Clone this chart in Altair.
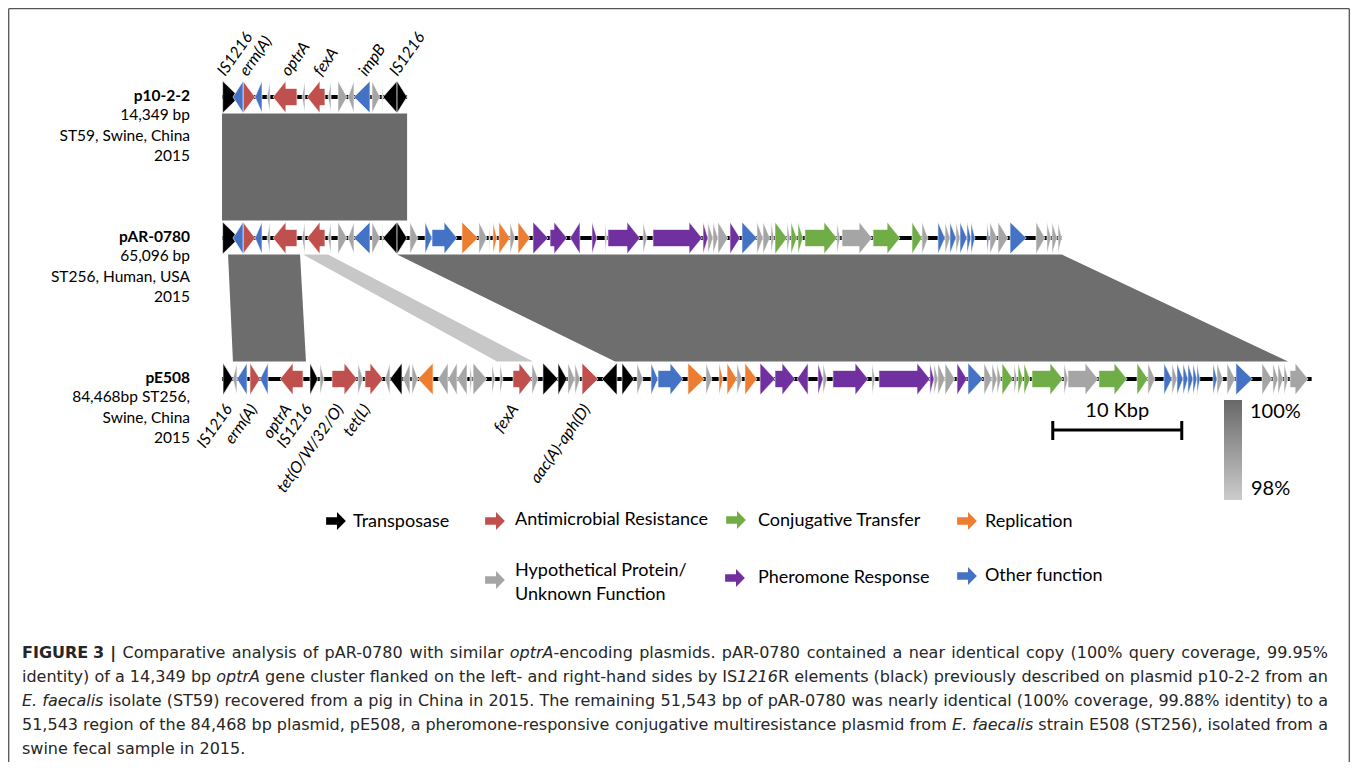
import altair as alt
import pandas as pd

# ---------------------------------------------------------------- data
PLASMIDS = ["p10-2-2", "pAR-0780", "pE508"]
PLASMID_LEN_KB = [14.349, 65.096, 84.468]
PLASMID_INFO = [
    ["14,349 bp", "ST59, Swine, China", "2015"],
    ["65,096 bp", "ST256, Human, USA", "2015"],
    ["84,468bp ST256,", "Swine, China", "2015"],
]

CATEGORIES = ["tra", "amr", "con", "rep", "hyp", "phe", "oth"]
CATEGORY_NAMES = ["Transposase", "Antimicrobial Resistance", "Conjugative Transfer",
                  "Replication", "Hypothetical Protein/\nUnknown Function",
                  "Pheromone Response", "Other function"]
CATEGORY_COLORS = ["#000000", "#c0504d", "#70ad47", "#ed7d31", "#a5a5a5", "#7030a0", "#4472c4"]

# genes: (start kb, end kb, strand, category)
P10_GENES = [
    (0.05, 1.32, "+", "tra"), (0.85, 1.63, "-", "oth"), (1.63, 2.56, "+", "amr"),
    (2.56, 3.10, "-", "oth"), (3.49, 3.72, "-", "hyp"), (3.95, 5.81, "-", "amr"),
    (6.20, 6.43, "-", "hyp"), (6.59, 7.98, "-", "amr"), (8.22, 8.45, "-", "hyp"),
    (8.99, 9.69, "+", "hyp"), (9.77, 10.23, "-", "hyp"), (10.23, 11.47, "-", "oth"),
    (11.63, 12.25, "+", "hyp"), (12.40, 12.48, "-", "hyp"), (12.48, 13.57, "-", "tra"),
    (13.57, 14.34, "+", "tra"),
]

PAR_GENES = P10_GENES + [
    (14.57, 15.19, "+", "hyp"), (15.74, 16.28, "+", "oth"), (16.28, 18.22, "+", "oth"),
    (18.60, 19.84, "+", "rep"), (19.92, 20.54, "+", "hyp"), (20.70, 20.78, "+", "hyp"),
    (21.01, 21.32, "+", "rep"), (21.47, 22.33, "+", "rep"), (22.33, 22.71, "+", "hyp"),
    (22.95, 23.88, "+", "rep"), (24.11, 25.27, "+", "phe"), (25.43, 26.74, "+", "phe"),
    (26.98, 27.75, "-", "phe"), (28.68, 29.07, "+", "phe"), (29.69, 29.84, "+", "hyp"),
    (29.92, 32.40, "+", "phe"), (32.64, 32.95, "+", "hyp"), (33.41, 37.21, "+", "phe"),
    (37.29, 37.67, "+", "phe"), (37.67, 38.06, "+", "hyp"), (38.06, 38.45, "+", "hyp"),
    (38.45, 39.22, "+", "hyp"), (39.38, 40.16, "+", "phe"), (40.31, 41.47, "+", "oth"),
    (41.47, 41.94, "+", "hyp"), (41.94, 42.48, "+", "hyp"), (42.56, 42.79, "+", "hyp"),
    (42.87, 43.80, "+", "con"), (43.80, 44.03, "+", "hyp"), (44.11, 44.57, "+", "con"),
    (44.65, 45.04, "+", "con"), (45.19, 47.67, "+", "con"), (47.67, 47.91, "+", "hyp"),
    (48.06, 50.39, "+", "hyp"), (50.47, 52.56, "+", "con"), (53.49, 54.26, "+", "con"),
    (54.26, 54.73, "+", "hyp"), (55.50, 56.05, "+", "oth"), (56.05, 56.43, "+", "hyp"),
    (56.43, 56.90, "+", "oth"), (56.90, 57.21, "+", "hyp"), (57.21, 57.75, "+", "oth"),
    (57.75, 58.06, "+", "oth"), (58.06, 58.37, "+", "oth"), (59.30, 59.46, "+", "oth"),
    (59.53, 60.08, "+", "hyp"), (60.16, 60.93, "+", "hyp"), (61.09, 62.35, "+", "oth"),
    (63.10, 63.80, "+", "hyp"), (63.95, 64.26, "+", "hyp"), (64.34, 64.73, "+", "hyp"),
    (64.81, 65.09, "+", "hyp"),
]

PE508_GENES = [
    (0.08, 0.85, "+", "tra"), (0.85, 1.16, "-", "hyp"), (1.16, 1.94, "-", "oth"),
    (2.17, 2.95, "+", "amr"), (2.95, 3.57, "-", "oth"), (4.50, 6.28, "-", "amr"),
    (6.82, 7.44, "+", "tra"), (7.60, 7.91, "+", "hyp"), (8.53, 10.47, "+", "amr"),
    (10.54, 10.93, "+", "hyp"), (11.09, 12.48, "+", "amr"), (12.64, 13.02, "-", "hyp"),
    (13.02, 13.95, "-", "tra"), (14.03, 14.57, "-", "hyp"), (14.73, 15.19, "+", "hyp"),
    (15.19, 16.36, "-", "rep"), (16.74, 17.52, "-", "hyp"), (17.52, 18.22, "-", "hyp"),
    (18.22, 18.99, "-", "hyp"), (19.22, 19.38, "+", "hyp"), (19.46, 20.54, "+", "hyp"),
    (20.93, 21.16, "+", "hyp"), (21.55, 21.78, "+", "hyp"), (22.56, 24.03, "+", "amr"),
    (24.03, 24.50, "+", "hyp"), (24.88, 26.05, "+", "tra"), (26.05, 26.74, "+", "tra"),
    (26.82, 27.36, "+", "hyp"), (27.36, 27.75, "+", "hyp"), (27.91, 29.15, "+", "amr"),
    (29.46, 30.62, "-", "tra"), (31.01, 31.94, "+", "tra"),
    (32.17, 32.64, "+", "hyp"), (33.26, 33.80, "+", "oth"), (33.80, 35.74, "+", "oth"),
    (36.12, 37.40, "+", "rep"), (37.52, 37.98, "+", "hyp"), (38.53, 38.84, "+", "rep"),
    (39.15, 39.92, "+", "rep"), (39.92, 40.31, "+", "hyp"), (40.54, 41.47, "+", "rep"),
    (41.71, 42.87, "+", "phe"), (42.87, 44.42, "+", "phe"), (44.57, 45.43, "-", "phe"),
    (46.20, 46.59, "+", "phe"), (46.59, 46.90, "+", "hyp"), (47.36, 50.08, "+", "phe"),
    (50.39, 50.62, "+", "hyp"), (50.93, 54.88, "+", "phe"), (54.88, 55.19, "+", "phe"),
    (55.19, 55.50, "+", "hyp"), (55.50, 56.05, "+", "hyp"), (56.05, 56.82, "+", "hyp"),
    (56.98, 57.75, "+", "phe"), (57.83, 58.99, "+", "oth"), (59.07, 59.69, "+", "hyp"),
    (59.69, 60.08, "+", "hyp"), (60.08, 60.39, "+", "hyp"), (60.47, 61.32, "+", "con"),
    (61.40, 61.63, "+", "hyp"), (61.71, 62.09, "+", "con"), (62.17, 62.64, "+", "con"),
    (62.79, 65.19, "+", "con"), (65.27, 65.58, "+", "hyp"), (65.58, 67.91, "+", "hyp"),
    (67.98, 70.16, "+", "con"), (70.93, 71.78, "+", "con"), (71.78, 72.33, "+", "hyp"),
    (73.02, 73.64, "+", "oth"), (73.64, 74.03, "+", "hyp"), (74.03, 74.50, "+", "oth"),
    (74.50, 74.88, "+", "oth"), (74.88, 75.27, "+", "oth"), (75.27, 75.58, "+", "oth"),
    (75.58, 75.81, "+", "oth"), (76.82, 77.13, "+", "oth"), (77.13, 77.60, "+", "hyp"),
    (77.91, 78.53, "+", "hyp"), (78.60, 79.88, "+", "oth"), (80.62, 81.40, "+", "hyp"),
    (81.47, 81.86, "+", "hyp"), (81.86, 82.25, "+", "hyp"), (82.33, 82.64, "+", "hyp"),
    (82.79, 84.19, "+", "hyp"),
]
TRACK_GENES = [P10_GENES, PAR_GENES, PE508_GENES]

# homologous regions: (upper track, lower track, upper start, upper end, lower start, lower end, % identity)
SYNTENY = [
    (0, 1, 0.00, 14.349, 0.00, 14.349, 99.95),
    (1, 2, 0.47, 6.05, 0.85, 6.51, 99.9),
    (1, 2, 6.28, 8.22, 21.32, 24.11, 98.1),
    (1, 2, 13.57, 65.096, 30.47, 82.64, 99.88),
]
IDENTITY_RANGE = [98, 100]

TOP_LABELS = ["IS1216", "erm(A)", "optrA", "fexA", "impB", "IS1216"]
TOP_LABEL_KB = [0.25, 1.95, 5.2, 7.7, 11.2, 13.6]
BOTTOM_LABELS = ["IS1216", "erm(A)", "optrA", "IS1216", "tet(O/W/32/O)", "tet(L)", "fexA", "aac(A)-aph(D)"]
BOTTOM_LABEL_KB = [0.85, 2.79, 5.43, 7.05, 9.46, 11.55, 23.02, 28.60]

SCALE_BAR_KB = 10
SCALE_BAR_START_KB = 64.4

CAPTION_LINES = [
    "*FIGURE 3 |* Comparative analysis of pAR-0780 with similar _optrA_-encoding plasmids. pAR-0780 contained a near identical copy (100% query coverage, 99.95%",
    "identity) of a 14,349 bp _optrA_ gene cluster flanked on the left- and right-hand sides by IS_1216_R elements (black) previously described on plasmid p10-2-2 from an",
    "_E. faecalis_ isolate (ST59) recovered from a pig in China in 2015. The remaining 51,543 bp of pAR-0780 was nearly identical (100% coverage, 99.88% identity) to a",
    "51,543 region of the 84,468 bp plasmid, pE508, a pheromone-responsive conjugative multiresistance plasmid from _E. faecalis_ strain E508 (ST256), isolated from a",
    "swine fecal sample in 2015.",
]

# ---------------------------------------------------------------- layout
W, H = 1342, 754
PX_PER_KB = 12.9
X0_PX = 214
XMIN = -X0_PX / PX_PER_KB
XMAX = XMIN + W / PX_PER_KB
XS = alt.Scale(domain=[XMIN, XMAX], nice=False, zero=False)
YS = alt.Scale(domain=[0, H], nice=False, zero=False, reverse=True)
TRACK_Y = [89, 230, 371]
HEAD_HALF, BODY_HALF = 16, 8.5
HEAD_KB, TRI_KB = 1.0, 1.3
EPS = 0.002
COLOR_OF = dict(zip(CATEGORIES, CATEGORY_COLORS))
FONT = "Lato"


def gx(field, **kw):
    return alt.X(field, scale=XS, axis=None, **kw)


def gy(field, **kw):
    return alt.Y(field, scale=YS, axis=None, **kw)


# gene arrows
arrow_rows = []
for ti, genes in enumerate(TRACK_GENES):
    yc = TRACK_Y[ti]
    for gi, (s, e, strand, cat) in enumerate(genes):
        if e - s <= TRI_KB:
            pts = [(s, HEAD_HALF), (e, 0.0)] if strand == "+" else [(s, 0.0), (e, HEAD_HALF)]
        elif strand == "+":
            h = e - HEAD_KB
            pts = [(s, BODY_HALF), (h - EPS, BODY_HALF), (h, HEAD_HALF), (e, 0.0)]
        else:
            h = s + HEAD_KB
            pts = [(s, 0.0), (h, HEAD_HALF), (h + EPS, BODY_HALF), (e, BODY_HALF)]
        for x, hw in pts:
            arrow_rows.append({"gid": f"{ti}_{gi}", "x": x, "ylo": yc - hw,
                               "yhi": yc + hw, "cat": cat})
arrows_df = pd.DataFrame(arrow_rows)

backbone_df = pd.DataFrame({"x0": [0.0] * 3, "x1": PLASMID_LEN_KB, "y": TRACK_Y})


def gray_for(identity):
    lo, hi = IDENTITY_RANGE
    t = max(0.0, min(1.0, (identity - lo) / (hi - lo)))
    v = round(204 - t * (204 - 104))
    return "#%02x%02x%02x" % (v, v, v)


syn_layers = []
for bi, (ta, tb, a0, a1, b0, b1, ident) in enumerate(SYNTENY):
    bdf = pd.DataFrame([
        {"yy": TRACK_Y[ta] + 16.5, "xa": a0, "xb": a1},
        {"yy": TRACK_Y[tb] - 17.5, "xa": b0, "xb": b1},
    ])
    syn_layers.append(alt.Chart(bdf).mark_area(orient="horizontal", color=gray_for(ident), opacity=1).encode(
        y=gy("yy:Q"), x=gx("xa:Q", stack=None), x2="xb:Q"))

backbone = alt.Chart(backbone_df).mark_rule(color="black", strokeWidth=4).encode(
    x=gx("x0:Q"), x2="x1:Q", y=gy("y:Q"))

arrow_layers = []
for cat in CATEGORIES:
    sub = arrows_df[arrows_df.cat == cat]
    if len(sub) == 0:
        continue
    arrow_layers.append(alt.Chart(sub).mark_area(
        orient="vertical", color=COLOR_OF[cat], opacity=1, stroke="white", strokeWidth=0.6,
        strokeJoin="miter").encode(
        x=gx("x:Q"), y=gy("ylo:Q", stack=None), y2="yhi:Q", detail="gid:N"))

top_lab = alt.Chart(pd.DataFrame({"t": TOP_LABELS, "x": TOP_LABEL_KB, "y": [69] * len(TOP_LABELS)})).mark_text(
    angle=305, align="left", baseline="alphabetic", font=FONT, fontStyle="italic", fontSize=16, color="black"
).encode(x=gx("x:Q"), y=gy("y:Q"), text="t:N")

bot_lab = alt.Chart(pd.DataFrame({"t": BOTTOM_LABELS, "x": BOTTOM_LABEL_KB, "y": [401] * len(BOTTOM_LABELS)})).mark_text(
    angle=305, align="right", baseline="alphabetic", font=FONT, fontStyle="italic", fontSize=16, color="black"
).encode(x=gx("x:Q"), y=gy("y:Q"), text="t:N")

# left-hand plasmid descriptions
name_rows, info_rows = [], []
for ti, name in enumerate(PLASMIDS):
    yc = TRACK_Y[ti]
    name_rows.append({"t": name, "px": 182, "py": yc - 1})
    for li, line in enumerate(PLASMID_INFO[ti]):
        info_rows.append({"t": line, "px": 182, "py": yc + 18 + li * 20.5})
names = alt.Chart(pd.DataFrame(name_rows)).mark_text(
    align="right", baseline="middle", font=FONT, fontSize=15.5, fontWeight="bold", color="black"
).encode(x=alt.X("px:Q", scale=None), y=alt.Y("py:Q", scale=None), text="t:N")
infos = alt.Chart(pd.DataFrame(info_rows)).mark_text(
    align="right", baseline="middle", font=FONT, fontSize=15.5, color="black"
).encode(x=alt.X("px:Q", scale=None), y=alt.Y("py:Q", scale=None), text="t:N")

# legend
LEG_SYM = {"tra": (328, 513), "amr": (487, 513), "con": (728, 512), "rep": (959, 513),
           "hyp": (487, 572), "phe": (727, 570), "oth": (959, 568)}
LEG_TXT = {"tra": (345, 514), "amr": (507, 512), "con": (750, 513), "rep": (977, 514),
           "hyp": (507, 563), "phe": (750, 570), "oth": (977, 568)}
ARROW_PATH = "M-1,-0.38L0.1,-0.38L0.1,-0.92L1,0L0.1,0.92L0.1,0.38L-1,0.38Z"
sym_rows, ltxt_rows = [], []
for cat, name in zip(CATEGORIES, CATEGORY_NAMES):
    sx, sy = LEG_SYM[cat]
    sym_rows.append({"px": sx, "py": sy, "fill": COLOR_OF[cat]})
    tx, ty = LEG_TXT[cat]
    for li, line in enumerate(name.split("\n")):
        ltxt_rows.append({"t": line, "px": tx, "py": ty + li * 24})
leg_sym = alt.Chart(pd.DataFrame(sym_rows)).mark_point(
    shape=ARROW_PATH, filled=True, size=390, opacity=1, strokeWidth=0
).encode(x=alt.X("px:Q", scale=None), y=alt.Y("py:Q", scale=None), fill=alt.Fill("fill:N", scale=None))
leg_txt = alt.Chart(pd.DataFrame(ltxt_rows)).mark_text(
    align="left", baseline="middle", font=FONT, fontSize=18, color="black"
).encode(x=alt.X("px:Q", scale=None), y=alt.Y("py:Q", scale=None), text="t:N")

# scale bar
sb_df = pd.DataFrame({"x0": [SCALE_BAR_START_KB], "x1": [SCALE_BAR_START_KB + SCALE_BAR_KB],
                      "xm": [SCALE_BAR_START_KB + SCALE_BAR_KB / 2], "t": [f"{SCALE_BAR_KB} Kbp"]})
sb_line = alt.Chart(sb_df).mark_rule(color="black", strokeWidth=3).encode(
    x=gx("x0:Q"), x2="x1:Q", y=alt.value(422))
sb_tick0 = alt.Chart(sb_df).mark_rule(color="black", strokeWidth=3).encode(
    x=gx("x0:Q"), y=alt.value(413), y2=alt.value(432))
sb_tick1 = alt.Chart(sb_df).mark_rule(color="black", strokeWidth=3).encode(
    x=gx("x1:Q"), y=alt.value(413), y2=alt.value(432))
sb_text = alt.Chart(sb_df).mark_text(
    align="center", baseline="middle", font=FONT, fontSize=20, color="black"
).encode(x=gx("xm:Q"), y=alt.value(403), text="t:N")

# identity gradient key
one = pd.DataFrame({"a": [0]})
grad = alt.Chart(one).mark_rect(
    fill=alt.Gradient(gradient="linear",
                      stops=[alt.GradientStop(color=gray_for(IDENTITY_RANGE[1]), offset=0),
                             alt.GradientStop(color=gray_for(IDENTITY_RANGE[0]), offset=1)],
                      x1=0, x2=0, y1=0, y2=1)
).encode(x=alt.value(1216), x2=alt.value(1234), y=alt.value(392), y2=alt.value(492))
grad_txt = alt.Chart(pd.DataFrame({"t": [f"{IDENTITY_RANGE[1]}%", f"{IDENTITY_RANGE[0]}%"],
                                   "px": [1242, 1243], "py": [404, 481]})).mark_text(
    align="left", baseline="middle", font=FONT, fontSize=20, color="black"
).encode(x=alt.X("px:Q", scale=None), y=alt.Y("py:Q", scale=None), text="t:N")

# caption (word-by-word justified layout, DejaVu Sans advance widths)
DV = {' ': 651, '!': 821, '%': 1946, '(': 799, ')': 799, ',': 651, '-': 739, '.': 651, '/': 690, '|': 690}
DV.update({d: 1303 for d in "0123456789"})
DV.update(dict(zip("ABCDEFGHIJKLMNOPQRSTUVWXYZ",
                   [1401, 1405, 1430, 1577, 1294, 1178, 1589, 1540, 604, 604, 1343, 1141, 1767,
                    1532, 1612, 1235, 1612, 1423, 1300, 1251, 1499, 1401, 2025, 1403, 1251, 1403])))
DV.update(dict(zip("abcdefghijklmnopqrstuvwxyz",
                   [1255, 1300, 1126, 1300, 1260, 721, 1300, 1298, 569, 569, 1186, 569, 1995,
                    1298, 1253, 1300, 1300, 842, 1067, 803, 1298, 1212, 1675, 1212, 1212, 1075])))
CAP_SIZE = 16
CAP_X0, CAP_X1 = 14, 1320
CAP_Y0, CAP_DY = 650, 24


def text_w(s, style):
    w = sum(DV.get(c, 1250) for c in s) / 2048 * CAP_SIZE
    return w * (1.09 if style == "b" else 1.0)


cap_rows = []
for li, line in enumerate(CAPTION_LINES):
    words, style, cur, word = [], "r", "", []
    for ch in line + " ":
        if ch in "*_":
            if cur:
                word.append((cur, style))
                cur = ""
            flag = "b" if ch == "*" else "i"
            style = "r" if style == flag else flag
        elif ch == " ":
            if cur:
                word.append((cur, style))
                cur = ""
            if word:
                words.append(word)
                word = []
        else:
            cur += ch
    widths = [sum(text_w(t, s) for t, s in wd) for wd in words]
    gap = text_w(" ", "r")
    if li < len(CAPTION_LINES) - 1 and len(words) > 1:
        gap = (CAP_X1 - CAP_X0 - sum(widths)) / (len(words) - 1)
    x = CAP_X0
    for wd, ww in zip(words, widths):
        xx = x
        for t, s in wd:
            cap_rows.append({"t": t, "s": s, "px": xx, "py": CAP_Y0 + li * CAP_DY})
            xx += text_w(t, s)
        x += ww + gap
cap_df = pd.DataFrame(cap_rows)


def cap_layer(style, **kw):
    return alt.Chart(cap_df[cap_df.s == style]).mark_text(
        align="left", baseline="alphabetic", font="DejaVu Sans", fontSize=CAP_SIZE, color="#262626", **kw
    ).encode(x=alt.X("px:Q", scale=None), y=alt.Y("py:Q", scale=None), text="t:N")


cap_r = cap_layer("r")
cap_i = cap_layer("i", fontStyle="italic")
cap_b = cap_layer("b", fontWeight="bold")

# frame
frame_l = alt.Chart(one).mark_rule(color="#555555", strokeWidth=1.3).encode(
    x=alt.value(0.7), y=alt.value(0.7), y2=alt.value(H))
frame_t = alt.Chart(one).mark_rule(color="#555555", strokeWidth=1.3).encode(
    x=alt.value(0.7), x2=alt.value(W - 0.7), y=alt.value(0.7))
frame_r = alt.Chart(one).mark_rule(color="#555555", strokeWidth=1.3).encode(
    x=alt.value(W - 0.7), y=alt.value(0.7), y2=alt.value(H))

chart = alt.layer(
    *syn_layers, backbone, *arrow_layers, top_lab, bot_lab, names, infos, leg_sym, leg_txt,
    sb_line, sb_tick0, sb_tick1, sb_text, grad, grad_txt, cap_r, cap_i, cap_b,
    frame_l, frame_t, frame_r
).properties(
    width=W, height=H, autosize=alt.AutoSizeParams(type="none"), padding=0, background="white"
).configure_view(stroke=None)

chart.save("out.html", embed_options={"renderer": "svg", "actions": False})
